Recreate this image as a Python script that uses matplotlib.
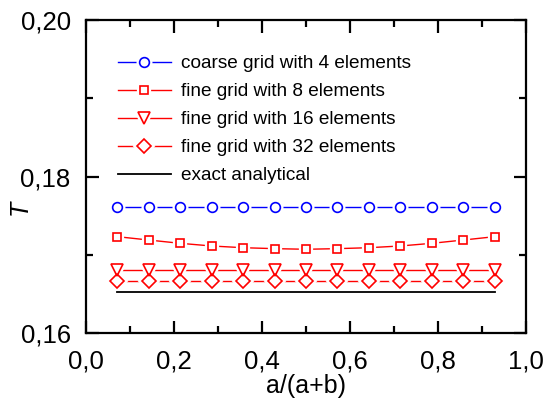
import numpy as np
import matplotlib.pyplot as plt

plt.rcParams['font.family'] = ['Liberation Sans', 'DejaVu Sans']

# data
x = np.arange(1, 14) / 14.0
T_coarse4 = [0.1761] * 13
T_fine8 = [0.17231, 0.17188, 0.17146, 0.17112, 0.17090, 0.17078, 0.17070,
           0.17078, 0.17090, 0.17112, 0.17146, 0.17188, 0.17231]
T_fine16 = [0.16808] * 13
T_fine32 = [0.16669] * 13
T_exact = 0.16524

labels = ["coarse grid with 4 elements", "fine grid with 8 elements",
          "fine grid with 16 elements", "fine grid with 32 elements",
          "exact analytical"]

fig = plt.figure(figsize=(5.46, 4.0), dpi=100)
ax = fig.add_axes([86/546, 1 - 333/400, 440/546, 313/400])

series = [
    (T_coarse4, 'blue', 'o', 7.0),
    (T_fine8, 'red', 's', 6.3),
    (T_fine16, 'red', 'v', 8.5),
    (T_fine32, 'red', 'D', 7.0),
]

handles = []
for y, col, mk, ms in series:
    ln, = ax.plot(x, y, '-', color=col, lw=1.0, zorder=2)
    # white halo so the line stops short of each marker
    gap, = ax.plot(x, y, ls='none', marker=mk, ms=ms, mfc='white',
                   mec='white', mew=4.5, zorder=3)
    m, = ax.plot(x, y, ls='none', marker=mk, ms=ms, mfc='none', mec=col,
                 mew=1.2, zorder=4)
    handles.append((ln, gap, m))

ex, = ax.plot([x[0], x[-1]], [T_exact, T_exact], color='black', lw=1.3,
              zorder=5)
handles.append(ex)

ax.set_xlim(0, 1)
ax.set_ylim(0.16, 0.20)
ax.set_xticks(np.arange(0, 1.01, 0.2))
ax.set_xticks(np.arange(0.1, 1.0, 0.2), minor=True)
ax.set_yticks([0.16, 0.18, 0.20])
ax.set_yticks([0.17, 0.19], minor=True)
ax.set_xticklabels([f"{v:.1f}".replace('.', ',') for v in np.arange(0, 1.01, 0.2)])
ax.set_yticklabels(["0,16", "0,18", "0,20"])

for s in ax.spines.values():
    s.set_linewidth(1.6)
ax.tick_params(which='both', direction='in', top=True, right=True,
               width=1.6, labelsize=18.5)
ax.tick_params(which='major', length=9)
ax.tick_params(which='minor', length=5)
ax.tick_params(axis='x', pad=12)
ax.tick_params(axis='y', pad=11)

ax.set_xlabel("a/(a+b)", fontsize=18, labelpad=0)
ax.set_ylabel("T", fontsize=18, style='italic')
ax.yaxis.set_label_coords(-0.123, 0.40)

ax.legend(handles, labels, loc='upper left', frameon=False, fontsize=13.7,
          bbox_to_anchor=(0.055, 0.912), handlelength=2.8, handletextpad=0.5,
          labelspacing=0.56, borderaxespad=0)

fig.savefig("out.png", dpi=100)
